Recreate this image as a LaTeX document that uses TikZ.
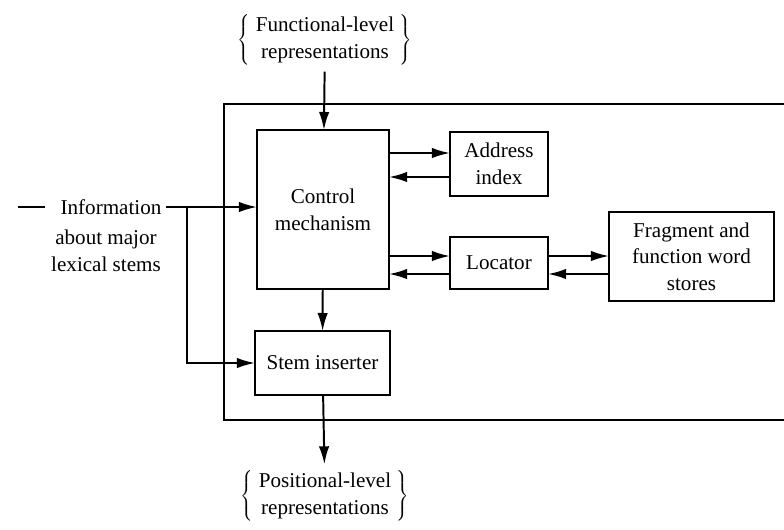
\documentclass[tikz,border=0pt]{standalone}
\usepackage{fontspec}
\setmainfont{Liberation Serif}
\usetikzlibrary{arrows.meta}
\tikzset{
  box/.style={draw, line width=1.4pt, outer sep=0pt, align=center, inner sep=2pt},
  flow/.style={line width=1.4pt, -{Latex[length=4.5mm,width=2.6mm]}},
}
\begin{document}
\begin{tikzpicture}[x=0.025cm, y=-0.025cm, font=\fontsize{15}{19}\selectfont]
   \useasboundingbox (0,0) rectangle (784,529);
   % outer frame, open to the right
   \draw[line width=1.4pt] (784,104) -| (224,420) -- (784,420);
   \node (funct) at (325,40) {$\left\{\;\begin{tabular}{@{}c@{}}Functional-level\\representations\end{tabular}\;\right\}$};
   \node (posit) at (325,496) {$\left\{\;\begin{tabular}{@{}c@{}}Positional-level\\representations\end{tabular}\;\right\}$};
   \node (ctrl) [box, minimum width=3.3cm, minimum height=3.975cm] at (323,209.5) {Control\\mechanism};
   \node (addr) [box, minimum width=2.45cm, minimum height=1.6cm] at (499,164) {Address\\index};
   \node (loc) [box, minimum width=2.45cm, minimum height=1.3cm] at (499,263) {Locator};
   \node (frag) [box, minimum width=4.125cm, minimum height=2.225cm] at (691.5,256.5) {Fragment and\\function word\\stores};
   \node (stem) [box, minimum width=3.375cm, minimum height=1.6cm] at (322.5,363) {Stem inserter};
   \node (info) at (111,207) {Information};
   \node (about) [align=center] at (106,251) {about major\\lexical stems};
   \coordinate (dash) at (18,207);
   \coordinate (br) at (187,208);
   \draw[line width=1.2pt] (dash) -- ++(27,0);
   \draw[flow] (funct) -- (ctrl);
   \draw[flow] (ctrl) -- (stem);
   \draw[flow] (stem) -- (posit);
   \draw[flow] (info.east) -- (info.east -| ctrl.west);
   \draw[flow] (br) |- (stem.west);
   \draw[flow] ([yshift=0.275cm]addr.west -| ctrl.east) -- ([yshift=0.275cm]addr.west);
   \draw[flow] ([yshift=-0.325cm]addr.west) -- ([yshift=-0.325cm]addr.west -| ctrl.east);
   \draw[flow] ([yshift=0.175cm]loc.west -| ctrl.east) -- ([yshift=0.175cm]loc.west);
   \draw[flow] ([yshift=-0.275cm]loc.west) -- ([yshift=-0.275cm]loc.west -| ctrl.east);
   \draw[flow] ([yshift=0.175cm]loc.east) -- ([yshift=0.175cm]loc.east -| frag.west);
   \draw[flow] ([yshift=-0.275cm]loc.east -| frag.west) -- ([yshift=-0.275cm]loc.east);
\end{tikzpicture}
\end{document}
